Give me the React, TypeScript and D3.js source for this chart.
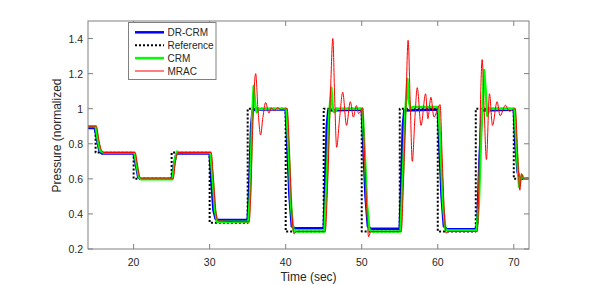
import React from 'react';
import * as d3 from 'd3';

// time (sec) / normalized pressure
const refSteps: [number, number][] = [
  [14, 0.9], [15, 0.75], [20, 0.6], [25, 0.75], [30, 0.35], [35, 1.0], [40, 0.3],
  [45, 1.0], [50, 0.3], [55, 1.0], [60, 0.3], [65, 1.0], [70, 0.6], [72, 0.6],
];

const drcrm: [number, number][] = [
  [14, 0.89], [14.9, 0.89], [15.2, 0.82], [15.5, 0.76], [15.8, 0.745], [20.0, 0.745],
  [20.3, 0.68], [20.6, 0.61], [20.9, 0.6], [25.0, 0.6], [25.3, 0.68], [25.6, 0.74],
  [25.9, 0.745], [30.0, 0.745], [30.2, 0.6], [30.5, 0.42], [30.8, 0.37], [31.2, 0.365],
  [35.0, 0.365], [35.2, 0.55], [35.45, 0.9], [35.65, 0.99], [36.0, 0.995], [40.0, 0.995],
  [40.2, 0.8], [40.5, 0.5], [40.8, 0.33], [41.2, 0.318], [45.0, 0.318], [45.2, 0.6],
  [45.4, 0.9], [45.6, 0.99], [50.0, 0.995], [50.2, 0.8], [50.5, 0.5], [50.8, 0.33],
  [51.2, 0.315], [55.0, 0.315], [55.2, 0.6], [55.4, 0.9], [55.6, 0.99], [60.0, 0.995],
  [60.2, 0.8], [60.5, 0.5], [60.8, 0.33], [61.2, 0.313], [65.0, 0.313], [65.2, 0.35],
  [65.5, 0.72], [65.8, 0.99], [70.0, 0.995], [70.2, 0.8], [70.5, 0.64], [70.8, 0.6],
  [72, 0.6],
];

const crm: [number, number][] = [
  [14, 0.9], [15.0, 0.9], [15.3, 0.82], [15.6, 0.76], [16.0, 0.75], [20.1, 0.75],
  [20.4, 0.68], [20.7, 0.61], [21.0, 0.597], [25.1, 0.597], [25.4, 0.7], [25.7, 0.755],
  [26.0, 0.752], [30.1, 0.75], [30.4, 0.6], [30.7, 0.42], [31.0, 0.355], [35.1, 0.356],
  [35.3, 0.5], [35.6, 0.95], [35.8, 1.13], [36.0, 1.02], [36.2, 0.98], [36.5, 1.0],
  [40.1, 1.0], [40.4, 0.75], [40.7, 0.45], [41.0, 0.31], [41.3, 0.3], [45.1, 0.3],
  [45.4, 0.6], [45.7, 0.95], [46.0, 1.12], [46.2, 1.0], [46.4, 0.98], [46.7, 1.0],
  [50.1, 1.0], [50.4, 0.75], [50.7, 0.45], [51.0, 0.31], [51.3, 0.3], [55.1, 0.3],
  [55.4, 0.6], [55.7, 0.95], [56.0, 1.17], [56.2, 1.05], [56.4, 1.0], [56.8, 1.01],
  [60.1, 1.01], [60.4, 0.75], [60.7, 0.45], [61.0, 0.31], [61.3, 0.305], [65.1, 0.305],
  [65.4, 0.45], [65.7, 0.85], [66.1, 1.22], [66.3, 1.1], [66.5, 0.96], [66.8, 1.0],
  [70.1, 1.0], [70.4, 0.75], [70.7, 0.555], [70.9, 0.6], [71.1, 0.62], [71.3, 0.6],
  [72, 0.6],
];

const mrac: [number, number][] = [
  [14, 0.9], [15.1, 0.9], [15.4, 0.83], [15.7, 0.77], [16.1, 0.75], [20.2, 0.75],
  [20.5, 0.68], [20.8, 0.61], [21.1, 0.6], [25.2, 0.6], [25.5, 0.7], [25.8, 0.75],
  [30.2, 0.75], [30.5, 0.6], [30.8, 0.42], [31.1, 0.36], [35.2, 0.355], [35.4, 0.5],
  [35.7, 0.95], [36.05, 1.2], [36.35, 1.0], [36.7, 0.85], [37.0, 0.95], [37.36, 1.035],
  [37.8, 0.975], [38.1, 1.005], [38.5, 0.99], [38.9, 1.005], [39.4, 0.995], [40.2, 1.0],
  [40.5, 0.75], [40.8, 0.42], [41.1, 0.285], [41.4, 0.3], [45.2, 0.3], [45.5, 0.55],
  [45.9, 1.1], [46.2, 1.4], [46.45, 1.05], [46.7, 0.78], [47.1, 0.95], [47.5, 1.094],
  [48.0, 0.905], [48.5, 1.04], [48.9, 0.952], [49.3, 1.018], [49.6, 0.971], [50.1, 1.005],
  [50.4, 0.7], [50.7, 0.4], [50.9, 0.27], [51.2, 0.3], [55.2, 0.3], [55.5, 0.6],
  [55.8, 1.0], [56.1, 1.39], [56.4, 1.0], [56.65, 0.7], [57.0, 0.95], [57.3, 1.12],
  [57.8, 0.905], [58.4, 1.085], [58.7, 0.943], [59.1, 1.065], [59.5, 0.952], [60.0, 1.0],
  [60.3, 1.024], [60.6, 0.7], [60.9, 0.38], [61.1, 0.29], [61.4, 0.3], [65.2, 0.3],
  [65.4, 0.55], [65.6, 1.0], [65.84, 1.28], [66.1, 1.0], [66.4, 0.71], [66.8, 1.085],
  [67.2, 0.905], [67.8, 1.04], [68.2, 0.96], [68.9, 1.02], [69.4, 0.985], [70.2, 1.0],
  [70.5, 0.75], [70.8, 0.535], [71.0, 0.63], [71.3, 0.6], [72, 0.6],
];

const xTicks = [20, 30, 40, 50, 60, 70];
const yTicks = [0.2, 0.4, 0.6, 0.8, 1, 1.2, 1.4];
const legendLabels = ['DR-CRM', 'Reference', 'CRM', 'MRAC'];

const W = 598;
const H = 285;
const box = { left: 88, right: 529, top: 21, bottom: 249 };
const font = '"Liberation Sans", Arial, Helvetica, sans-serif';
const axisColor = '#808080';
const textColor = '#262626';

export default function App() {
  const x = d3.scaleLinear().domain([14, 72]).range([box.left, box.right]);
  const y = d3.scaleLinear().domain([0.2, 1.5]).range([box.bottom, box.top]);

  const line = d3.line<[number, number]>().x(d => x(d[0])).y(d => y(d[1]));
  const smooth = d3.line<[number, number]>().x(d => x(d[0])).y(d => y(d[1])).curve(d3.curveMonotoneX);
  const step = d3.line<[number, number]>().x(d => x(d[0])).y(d => y(d[1])).curve(d3.curveStepAfter);

  const legendStyles = [
    { stroke: '#0000ff', width: 2.5, dash: undefined },
    { stroke: '#000000', width: 2, dash: '2,2' },
    { stroke: '#00ff00', width: 2.5, dash: undefined },
    { stroke: '#ff0000', width: 1, dash: undefined },
  ];
  const tickLen = 5;

  return (
    <svg width={W} height={H} style={{ position: 'absolute', left: 0, top: 0 }} fontFamily={font}>
      <rect width={W} height={H} fill="#fff" />
      <defs>
        <clipPath id="plot">
          <rect x={box.left} y={box.top} width={box.right - box.left} height={box.bottom - box.top} />
        </clipPath>
      </defs>

      <g clipPath="url(#plot)" fill="none" strokeLinejoin="round">
        <path d={line(drcrm) ?? ''} stroke="#0000ff" strokeWidth={2.5} />
        <path d={step(refSteps) ?? ''} stroke="#000" strokeWidth={2} strokeDasharray="2,2" />
        <path d={line(crm) ?? ''} stroke="#00ff00" strokeWidth={2.5} />
        <path d={smooth(mrac) ?? ''} stroke="#ff0000" strokeWidth={1} />
      </g>

      {/* axes box with inward ticks on all sides */}
      <g stroke={axisColor} strokeWidth={1} fill="none">
        <rect x={box.left} y={box.top} width={box.right - box.left} height={box.bottom - box.top} />
        {xTicks.map(t => (
          <g key={'x' + t}>
            <line x1={x(t)} x2={x(t)} y1={box.bottom} y2={box.bottom - tickLen} />
            <line x1={x(t)} x2={x(t)} y1={box.top} y2={box.top + tickLen} />
          </g>
        ))}
        {yTicks.map(t => (
          <g key={'y' + t}>
            <line x1={box.left} x2={box.left + tickLen} y1={y(t)} y2={y(t)} />
            <line x1={box.right} x2={box.right - tickLen} y1={y(t)} y2={y(t)} />
          </g>
        ))}
      </g>

      <g fill={textColor} fontSize={10.5}>
        {xTicks.map(t => (
          <text key={'xl' + t} x={x(t)} y={box.bottom + 17} textAnchor="middle">{t}</text>
        ))}
        {yTicks.map(t => (
          <text key={'yl' + t} x={box.left - 5} y={y(t) + 4} textAnchor="end">{t}</text>
        ))}
      </g>

      <text x={(box.left + box.right) / 2} y={281} textAnchor="middle" fontSize={12} fill={textColor}>
        Time (sec)
      </text>
      <text transform="translate(61,135.5) rotate(-90)" textAnchor="middle" fontSize={12} fill={textColor}>
        Pressure (normalized
      </text>

      {/* legend */}
      <g>
        <rect x={128.5} y={22.5} width={87.5} height={57} fill="#fff" stroke={axisColor} strokeWidth={1} />
        {legendLabels.map((label, i) => {
          const cy = 32.3 + i * 12.9;
          const s = legendStyles[i];
          return (
            <g key={label}>
              <line x1={135} x2={164} y1={cy} y2={cy} stroke={s.stroke} strokeWidth={s.width} strokeDasharray={s.dash} />
              <text x={167.5} y={cy + 3.6} fontSize={10} fill={textColor}>{label}</text>
            </g>
          );
        })}
      </g>
    </svg>
  );
}
